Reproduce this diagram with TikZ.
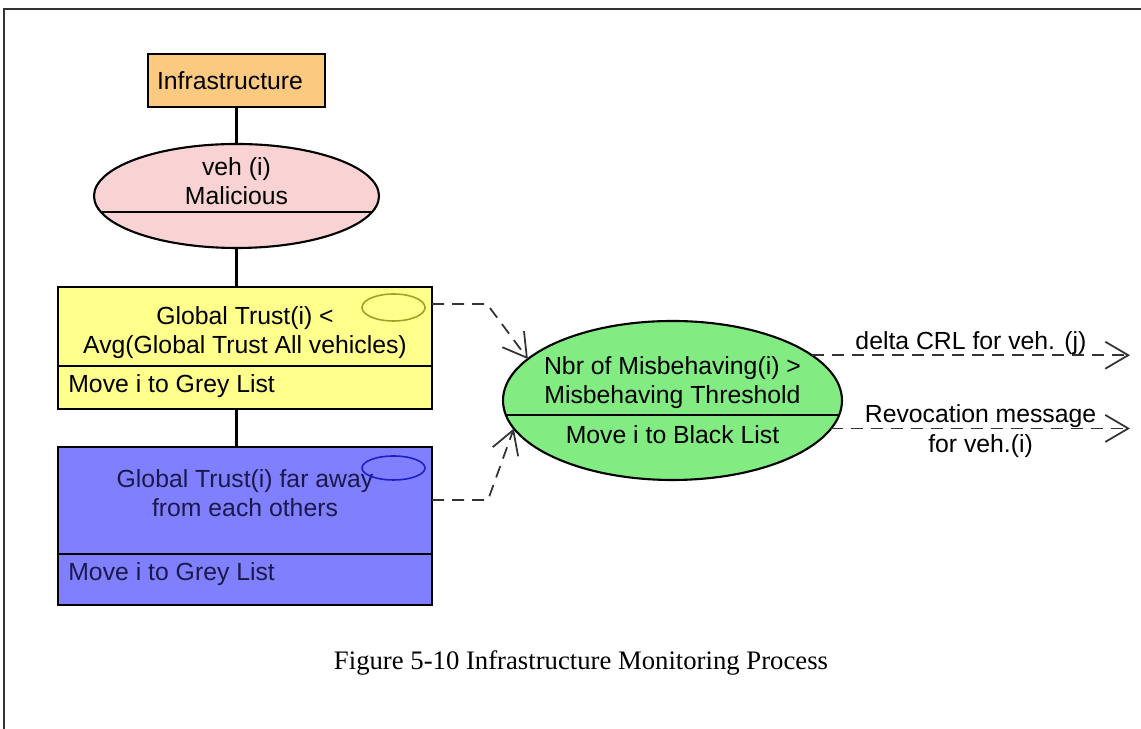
\documentclass[tikz,border=0pt]{standalone}
\usepackage{fontspec}
\setmainfont{Liberation Serif}
\setsansfont{Liberation Sans}
\usetikzlibrary{shapes.geometric, arrows.meta, positioning, calc}
\usepackage{xcolor}
\definecolor{infraorange}{RGB}{251,201,128}
\definecolor{vehpink}{RGB}{249,211,211}
\definecolor{trustyellow}{RGB}{255,255,140}
\definecolor{farblue}{RGB}{128,128,255}
\definecolor{misbgreen}{RGB}{130,235,130}
\definecolor{ovalolive}{RGB}{160,160,40}
\definecolor{ovalblue}{RGB}{30,30,200}
\definecolor{textnavy}{RGB}{25,25,75}
\tikzset{
    entity/.style={rectangle, draw, line width=1.2pt, fill=infraorange, minimum width=3.54cm, minimum height=1.06cm, text width=3.18cm, align=left, inner xsep=0.18cm, outer sep=0pt},
    state/.style={ellipse, draw, line width=1.2pt, inner sep=0pt, outer sep=0pt},
    rulebox/.style={rectangle, draw, line width=1.2pt, minimum width=7.48cm, outer sep=0pt},
    guard/.style={ellipse, draw, line width=0.9pt, minimum width=1.26cm, inner sep=0pt},
    link/.style={line width=1.2pt},
    flow/.style={line width=1pt, draw=black!80, dash pattern=on 0.24cm off 0.16cm, -{Straight Barb[length=0.46cm, width=0.54cm]}},
    msg/.style={inner sep=0pt}
}

\begin{document}
\begin{tikzpicture}[font=\sffamily\fontsize{14.1}{16.5}\selectfont]
    \useasboundingbox (0,0) rectangle (22.82,14.58);
    % frame
    \draw[line width=1.1pt, black!80] (22.82,14.4) -- (0.08,14.4) -- (0.08,0);

    \node[entity] (infra) at (4.73,12.97) {Infrastructure};
    \node[state, fill=vehpink, minimum width=5.70cm, minimum height=2.08cm] (veh) at (4.73,10.66) {};
    \node[align=center] (vehtext) at (4.73,10.96) {veh (i)\\Malicious};
    \begin{scope}
        \clip (veh.center) ellipse [x radius=2.85cm, y radius=1.04cm];
        \draw[link] ([yshift=-0.32cm]veh.west) -- ([yshift=-0.32cm]veh.east);
    \end{scope}

    \node[rulebox, fill=trustyellow, minimum height=2.44cm] (avg) at (4.90,7.62) {};
    \node[align=center] (avgtext) at (4.90,7.92) {Global Trust(i) <\\Avg(Global Trust All vehicles)};
    \draw[link] ([yshift=-1.58cm]avg.north west) -- ([yshift=-1.58cm]avg.north east);
    \node[anchor=west, inner sep=0pt] (avgmove) at (1.36,6.86) {Move i to Grey List};
    \node[guard, draw=ovalolive, minimum height=0.54cm] (avgoval) at (7.87,8.43) {};

    \node[rulebox, fill=farblue, minimum height=3.16cm] (far) at (4.90,4.06) {};
    \node[align=center, text=textnavy] (fartext) at (4.90,4.71) {Global Trust(i) far away\\from each others};
    \draw[link] ([yshift=-2.14cm]far.north west) -- ([yshift=-2.14cm]far.north east);
    \node[anchor=west, inner sep=0pt, text=textnavy] (farmove) at (1.36,3.10) {Move i to Grey List};
    \node[guard, draw=ovalblue, minimum height=0.48cm] (faroval) at (7.87,5.22) {};

    \node[state, fill=misbgreen, minimum width=6.78cm, minimum height=3.18cm] (misb) at (13.45,6.57) {};
    \node[align=center] (misbtext) at (13.45,6.93) {Nbr of Misbehaving(i) >\\Misbehaving Threshold};
    \begin{scope}
        \clip (misb.center) ellipse [x radius=3.39cm, y radius=1.59cm];
        \draw[link] ([yshift=-0.29cm]misb.west) -- ([yshift=-0.29cm]misb.east);
    \end{scope}
    \node (black) at (13.45,5.88) {Move i to Black List};

    \draw[link] (infra.south) -- (veh.north);
    \draw[link] (veh.south) -- (veh.south |- avg.north);
    \draw[link] (veh.south |- avg.south) -- (veh.south |- far.north);

    \draw[flow] ([yshift=-0.34cm]avg.north east) -- ++(1.10,0) -- (misb.164);
    \draw[flow] ([yshift=-1.06cm]far.north east) -- ++(1.12,0) -- (misb.190);

    \coordinate (crl) at (22.60,7.48);
    \coordinate (revoke) at (22.60,6.02);
    \draw[flow] (misb.18) -- node[msg, above=0pt] {delta CRL for veh. (j)} (misb.18 -| crl);
    \draw[flow] (misb.350) -- node[msg, above=0pt] {Revocation message} node[msg, below=0.1cm] {for veh.(i)} (misb.350 -| revoke);

    \node[font=\rmfamily\fontsize{15.2}{18}\selectfont] (caption) at (11.62,1.32) {Figure 5-10 Infrastructure Monitoring Process};
\end{tikzpicture}
\end{document}
